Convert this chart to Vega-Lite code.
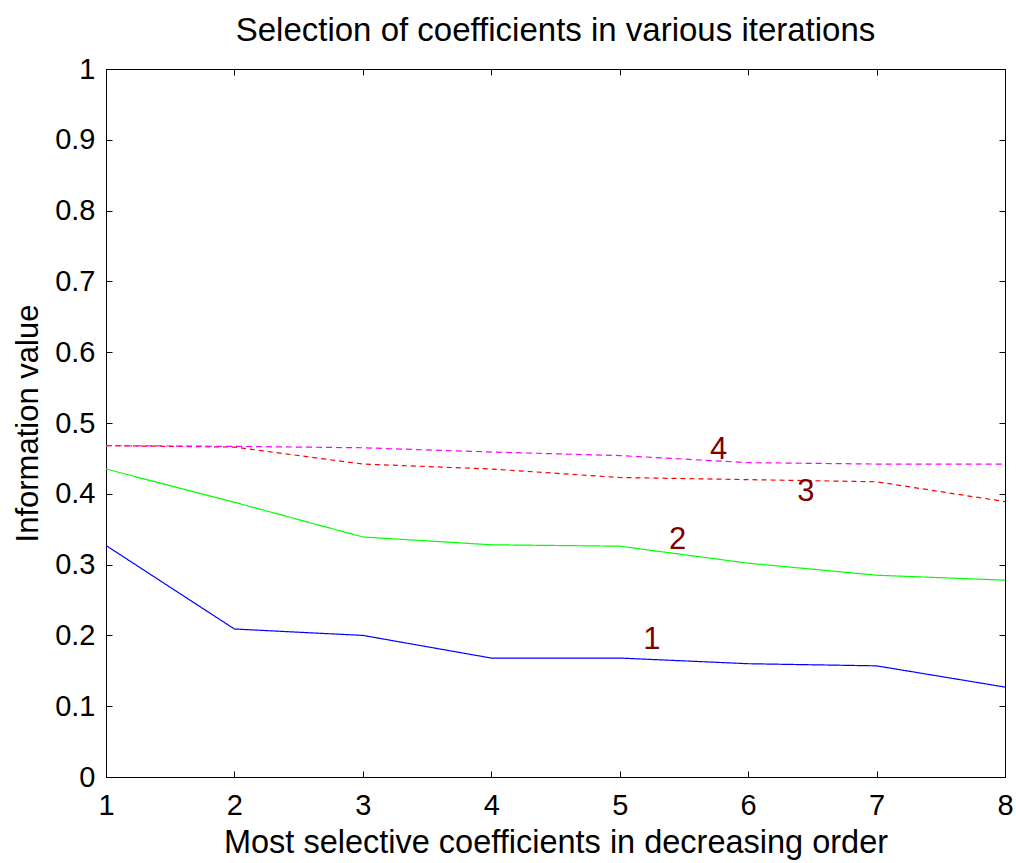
{
  "$schema": "https://vega.github.io/schema/vega-lite/v6.json",
  "width": 899,
  "height": 708,
  "autosize": "none",
  "padding": {"left": 106, "top": 69, "right": 11, "bottom": 86},
  "background": "white",
  "config": {
    "font": "Liberation Sans",
    "view": {"stroke": "black", "strokeWidth": 1},
    "axis": {
      "grid": false,
      "domainColor": "black",
      "tickColor": "black",
      "tickSize": -6,
      "labelColor": "black",
      "labelFontSize": 29,
      "labelFont": "Liberation Sans",
      "labelFlush": false,
      "labelOverlap": false,
      "titleFont": "Liberation Sans",
      "titleFontSize": 31,
      "titleFontWeight": "normal",
      "titleColor": "black"
    }
  },
  "title": {
    "text": "Selection of coefficients in various iterations",
    "font": "Liberation Sans",
    "fontSize": 33,
    "fontWeight": "normal",
    "color": "black",
    "anchor": "middle",
    "offset": 7
  },
  "datasets": {
    "curves": [
      {"k": 1, "iteration": "1", "value": 0.327},
      {"k": 2, "iteration": "1", "value": 0.209},
      {"k": 3, "iteration": "1", "value": 0.200},
      {"k": 4, "iteration": "1", "value": 0.168},
      {"k": 5, "iteration": "1", "value": 0.168},
      {"k": 6, "iteration": "1", "value": 0.160},
      {"k": 7, "iteration": "1", "value": 0.157},
      {"k": 8, "iteration": "1", "value": 0.127},
      {"k": 1, "iteration": "2", "value": 0.435},
      {"k": 2, "iteration": "2", "value": 0.388},
      {"k": 3, "iteration": "2", "value": 0.339},
      {"k": 4, "iteration": "2", "value": 0.328},
      {"k": 5, "iteration": "2", "value": 0.326},
      {"k": 6, "iteration": "2", "value": 0.302},
      {"k": 7, "iteration": "2", "value": 0.285},
      {"k": 8, "iteration": "2", "value": 0.278},
      {"k": 1, "iteration": "3", "value": 0.468},
      {"k": 2, "iteration": "3", "value": 0.466},
      {"k": 3, "iteration": "3", "value": 0.442},
      {"k": 4, "iteration": "3", "value": 0.435},
      {"k": 5, "iteration": "3", "value": 0.423},
      {"k": 6, "iteration": "3", "value": 0.420},
      {"k": 7, "iteration": "3", "value": 0.417},
      {"k": 8, "iteration": "3", "value": 0.389},
      {"k": 1, "iteration": "4", "value": 0.468},
      {"k": 2, "iteration": "4", "value": 0.467},
      {"k": 3, "iteration": "4", "value": 0.465},
      {"k": 4, "iteration": "4", "value": 0.459},
      {"k": 5, "iteration": "4", "value": 0.454},
      {"k": 6, "iteration": "4", "value": 0.444},
      {"k": 7, "iteration": "4", "value": 0.442},
      {"k": 8, "iteration": "4", "value": 0.442}
    ],
    "tags": [
      {"k": 5.25, "value": 0.194, "label": "1"},
      {"k": 5.45, "value": 0.335, "label": "2"},
      {"k": 6.45, "value": 0.403, "label": "3"},
      {"k": 5.77, "value": 0.462, "label": "4"}
    ]
  },
  "resolve": {"axis": {"x": "independent", "y": "independent"}},
  "layer": [
    {
      "data": {"name": "curves"},
      "mark": {"type": "line", "strokeWidth": 1.2, "clip": true},
      "encoding": {
        "x": {
          "field": "k",
          "type": "quantitative",
          "scale": {"domain": [1, 8], "nice": false, "zero": false},
          "axis": {
            "title": "Most selective coefficients in decreasing order",
            "titleFontSize": 32.5,
            "values": [1, 2, 3, 4, 5, 6, 7, 8],
            "format": "d",
            "labelPadding": 20,
            "titlePadding": 6
          }
        },
        "y": {
          "field": "value",
          "type": "quantitative",
          "scale": {"domain": [0, 1], "nice": false},
          "axis": {
            "title": "Information value",
            "values": [0, 0.1, 0.2, 0.3, 0.4, 0.5, 0.6, 0.7, 0.8, 0.9, 1],
            "format": "~g",
            "labelPadding": 17,
            "titlePadding": 10
          }
        },
        "color": {
          "field": "iteration",
          "type": "nominal",
          "scale": {"domain": ["1", "2", "3", "4"], "range": ["#0000ff", "#00ff00", "#ff0000", "#ff00ff"]},
          "legend": null
        },
        "strokeDash": {
          "field": "iteration",
          "type": "nominal",
          "scale": {"domain": ["1", "2", "3", "4"], "range": [[1, 0], [1, 0], [5, 4], [6, 4]]},
          "legend": null
        }
      }
    },
    {
      "data": {"name": "tags"},
      "mark": {"type": "text", "fontSize": 31, "color": "#800000", "font": "Liberation Sans"},
      "encoding": {
        "x": {"field": "k", "type": "quantitative", "axis": {"orient": "top", "title": null, "values": [1, 2, 3, 4, 5, 6, 7, 8], "labels": false, "domain": false}},
        "y": {"field": "value", "type": "quantitative", "axis": {"orient": "right", "title": null, "values": [0, 0.1, 0.2, 0.3, 0.4, 0.5, 0.6, 0.7, 0.8, 0.9, 1], "labels": false, "domain": false}},
        "text": {"field": "label", "type": "nominal"}
      }
    }
  ]
}
